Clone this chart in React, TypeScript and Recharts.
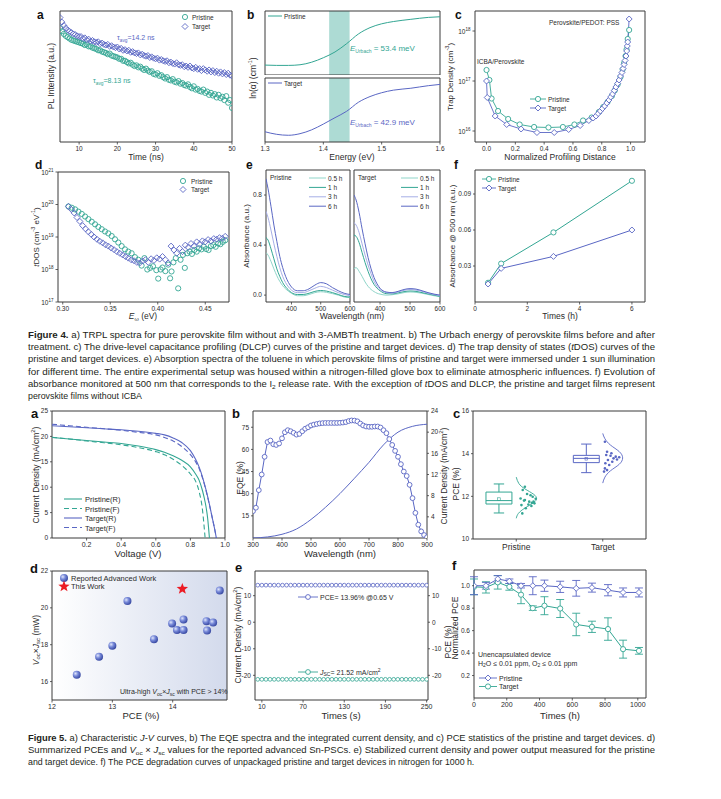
import React from "react";
import { ComposedChart, Line, Scatter, XAxis, YAxis, ReferenceArea, ErrorBar } from "recharts";

const FONT = "'Liberation Sans', Arial, Helvetica, sans-serif";
const TEAL = "#33a693";
const LTEAL = "#8fd5c9";
const PURP = "#5a67c4";
const LPURP = "#a6aee6";
const FRAME = "#3a3a3a";
const INK = "#2b2b2b";

// ---------------- Figure 4a : TRPL ----------------
const trplTime = [5,5.5,6,6.5,7,7.5,8,8.5,9,9.5,10,10.5,11,11.5,12,12.5,13,13.5,14,14.5,15,15.5,16,16.5,17,17.5,18,18.5,19,19.5,20,20.5,21,21.5,22,22.5,23,23.5,24,24.5,25,25.5,26,26.5,27,27.5,28,28.5,29,29.5,30,30.5,31,31.5,32,32.5,33,33.5,34,34.5,35,35.5,36,36.5,37,37.5,38,38.5,39,39.5,40,40.5,41,41.5,42,42.5,43,43.5,44,44.5,45,45.5,46,46.5,47,47.5,48,48.5,49,49.5,50];
const trplTarget = [95,91.5,89,87,85.5,84.5,83.5,82.5,82,81,80.5,80.5,79,79.5,78,78.5,77,77.5,76.5,76,76.5,75,75.5,74.5,74,74.5,73,73.5,72.5,72,72.5,71,71.5,70,70.5,69.5,70,68.5,69,68,67.5,68,66.5,67,66,65.5,66,64.5,65,64,63.5,64,62.5,63,62,61.5,62,60.5,61,60,59.5,60.5,59,58.5,59,57.5,58,57,58,56.5,56,57,55.5,56,54.5,56,55,54,55,53.5,54.5,53,54,52.5,53.5,52,53,51.5,52.5,51,50.5];
const trplPristine = [87,84.5,82.5,81,80,79,78,77.5,77,76.5,76,75.5,75,74,74.5,73,73,72,71.5,71,70,70,69,68.5,68,67,67.5,66,65.5,65,64.5,63.5,63.5,62,62,61,60,60.5,59,58,58.5,57,57.5,56,55,56,54.5,53.5,54,52,51.5,52.5,50.5,51,49.5,48.5,49.5,47.5,47,48,46,45.5,46.5,44.5,45,43.5,43,44,42,41,42.5,40,40.5,39,38.5,40,37.5,38.5,36,37.5,35.5,36.5,34,36,33.5,34.5,32,35,30,32,26];

// ---------------- Figure 4b : Urbach ----------------
const urbachEnergy = [1.30,1.32,1.34,1.36,1.38,1.40,1.42,1.44,1.46,1.48,1.50,1.52,1.55,1.58,1.60];
const urbachPristine = [1.55,1.5,1.5,1.6,2.0,2.7,3.6,4.9,6.4,7.4,8.0,8.35,8.7,9.0,9.1];
const urbachTarget = [1.6,1.2,1.05,1.3,1.9,2.8,3.8,4.8,6.2,7.1,7.7,8.1,8.4,8.8,9.0];
const urbachBand = [1.41, 1.445];

// ---------------- Figure 4c : DLCP (log10 of trap density) ----------------
const dlcpPristineX = [0,0.02,0.035,0.08,0.15,0.23,0.33,0.43,0.53,0.61,0.67,0.73,0.78,0.81,0.84,0.87,0.89,0.91,0.93,0.945,0.955,0.965,0.972,0.98,0.99];
const dlcpPristineLog = [17.22,17.02,16.65,16.40,16.24,16.13,16.08,16.07,16.08,16.13,16.21,16.27,16.38,16.48,16.58,16.70,16.81,16.93,17.08,17.23,17.36,17.5,17.63,17.84,18.02];
const dlcpTargetX = [0,0.005,0.06,0.14,0.24,0.35,0.47,0.57,0.65,0.71,0.74,0.76,0.775,0.79,0.805,0.82,0.835,0.85,0.862,0.875,0.887,0.898,0.91,0.92,0.93,0.94,0.948,0.955,0.962,0.968,0.973,0.977,0.98,0.99];
const dlcpTargetLog = [17.0,16.67,16.30,16.13,16.04,15.97,15.97,16.03,16.11,16.21,16.26,16.30,16.35,16.40,16.45,16.50,16.56,16.62,16.68,16.74,16.81,16.88,16.95,17.02,17.1,17.17,17.25,17.33,17.41,17.5,17.6,17.7,17.78,18.24];

// ---------------- Figure 4d : tDOS (log10) ----------------
const tdosPristineE = [0.306,0.3095,0.313,0.3165,0.32,0.3235,0.327,0.3305,0.334,0.3375,0.341,0.3445,0.348,0.3515,0.355,0.3585,0.362,0.3655,0.369,0.3725,0.376,0.3795,0.383,0.386,0.389,0.392,0.395,0.3985,0.4005,0.403,0.405,0.408,0.411,0.413,0.4145,0.4165,0.419,0.4215,0.424,0.4265,0.4285,0.431,0.4335,0.436,0.4385,0.441,0.4435,0.446,0.4485,0.451,0.4535,0.456,0.4585,0.461,0.4635,0.466,0.4685,0.471];
const tdosPristineLog = [19.94,19.9,19.85,19.78,19.71,19.63,19.55,19.47,19.39,19.31,19.24,19.17,19.11,19.03,18.93,18.83,18.72,18.62,18.55,18.5,18.38,18.3,18.12,18.35,18.0,18.05,18.1,17.98,17.72,18.0,18.06,17.95,18.15,17.73,17.94,18.22,18.35,17.42,18.3,18.45,18.05,18.5,18.55,18.48,18.6,18.55,18.65,18.62,18.7,18.63,18.6,18.72,18.75,18.7,18.8,18.78,18.85,18.9];
const tdosTargetE = [0.306,0.309,0.312,0.315,0.318,0.321,0.324,0.327,0.330,0.333,0.336,0.339,0.342,0.345,0.348,0.351,0.354,0.357,0.360,0.363,0.366,0.369,0.372,0.375,0.378,0.381,0.384,0.387,0.390,0.393,0.396,0.399,0.402,0.405,0.408,0.411,0.414,0.417,0.420,0.423,0.426,0.429,0.432,0.435,0.438,0.441,0.444,0.447,0.450,0.453,0.456,0.459,0.462,0.465,0.468,0.471];
const tdosTargetLog = [19.94,19.85,19.74,19.6,19.48,19.35,19.25,19.16,19.08,19.0,18.93,18.87,18.82,18.76,18.72,18.66,18.61,18.55,18.5,18.45,18.4,18.35,18.3,18.27,18.22,18.2,18.26,18.3,18.22,18.33,18.28,18.36,18.32,18.4,18.3,18.2,18.72,18.6,18.5,18.65,18.55,18.75,18.68,18.8,18.72,18.85,18.78,18.88,18.85,18.92,18.88,18.95,18.93,18.98,18.96,19.02];

// ---------------- Figure 4e : absorbance spectra ----------------
const absWavelength = [313,320,330,340,350,360,370,380,390,400,420,440,460,480,500,520,540,560,580,600];
const absPristine05 = [0.34,0.32,0.27,0.21,0.155,0.11,0.075,0.05,0.03,0.015,-0.005,-0.005,0.005,0.02,0.027,0.022,0.012,0.0,-0.015,-0.02];
const absPristine1 = [0.46,0.44,0.37,0.29,0.21,0.15,0.10,0.065,0.04,0.02,0.005,0.005,0.015,0.03,0.037,0.032,0.02,0.005,-0.01,-0.015];
const absPristine3 = [0.67,0.62,0.52,0.41,0.31,0.22,0.15,0.10,0.065,0.04,0.02,0.02,0.035,0.055,0.07,0.06,0.04,0.02,0.005,-0.005];
const absPristine6 = [0.93,0.85,0.71,0.56,0.43,0.31,0.22,0.15,0.10,0.065,0.035,0.035,0.05,0.08,0.10,0.09,0.06,0.035,0.015,0.005];
const absTarget05 = [0.21,0.22,0.19,0.15,0.105,0.07,0.045,0.028,0.015,0.008,0.0,0.003,0.01,0.02,0.025,0.022,0.015,0.005,-0.005,-0.012];
const absTarget1 = [0.48,0.47,0.42,0.34,0.26,0.19,0.13,0.085,0.055,0.035,0.012,0.01,0.018,0.028,0.033,0.03,0.02,0.01,0.0,-0.01];
const absTarget3 = [0.58,0.56,0.50,0.41,0.32,0.24,0.17,0.11,0.07,0.045,0.02,0.015,0.025,0.038,0.045,0.04,0.03,0.015,0.005,-0.005];
const absTarget6 = [0.80,0.76,0.66,0.53,0.41,0.30,0.21,0.14,0.09,0.055,0.025,0.02,0.03,0.045,0.052,0.048,0.035,0.02,0.008,0.0];
const absLabels = ["0.5 h", "1 h", "3 h", "6 h"];

// ---------------- Figure 4f : I2 release ----------------
const releaseTime = [0.5, 1, 3, 6];
const releasePristine = [0.016, 0.032, 0.058, 0.101];
const releaseTarget = [0.015, 0.028, 0.038, 0.060];

// ---------------- Figure 5a : J-V ----------------
const jvPristineRV = [0,0.1,0.2,0.3,0.4,0.5,0.6,0.65,0.7,0.75,0.8,0.83,0.85,0.87,0.88,0.89,0.90,0.905,0.91];
const jvPristineRJ = [19.8,19.5,19.2,18.9,18.6,18.1,17.4,16.9,16.2,15.3,14.0,12.6,11.4,9.3,7.9,6.2,3.8,2.0,0];
const jvPristineFV = [0,0.1,0.2,0.3,0.4,0.5,0.6,0.65,0.7,0.75,0.8,0.83,0.85,0.87,0.88,0.885];
const jvPristineFJ = [19.8,19.5,19.1,18.75,18.35,17.8,17.0,16.4,15.5,14.3,12.6,11.2,9.2,5.5,2.0,0];
const jvTargetRV = [0,0.1,0.2,0.3,0.4,0.5,0.6,0.65,0.7,0.75,0.8,0.83,0.85,0.87,0.89,0.91,0.93,0.94,0.95];
const jvTargetRJ = [22.1,21.9,21.7,21.5,21.3,21.0,20.6,20.3,19.7,18.8,17.2,15.5,14.0,12.0,9.5,6.6,3.4,1.8,0];
const jvTargetFV = [0,0.1,0.2,0.3,0.4,0.5,0.6,0.65,0.7,0.75,0.8,0.83,0.85,0.87,0.89,0.91,0.93,0.94,0.95];
const jvTargetFJ = [22.4,22.1,21.8,21.5,21.2,20.8,20.3,19.8,19.1,18.0,16.4,15.0,13.7,11.8,9.4,6.5,3.4,1.8,0];
const jvLabels = ["Pristine(R)", "Pristine(F)", "Target(R)", "Target(F)"];

// ---------------- Figure 5b : EQE ----------------
const eqeWavelength = [300,310,320,330,340,350,360,370,380,390,400,410,420,430,440,450,460,470,480,490,500,510,520,530,540,550,560,570,580,590,600,610,620,630,640,650,660,670,680,690,700,710,720,730,740,750,760,770,780,790,800,810,820,830,840,850,860,870,880,890,900];
const eqeValues = [18.2,20.5,32.4,43,55,65,66,63.5,63,64,67.5,71.6,73,72.3,71.2,70,70.5,72.3,74,75,76.2,76.8,77.2,77.6,77.8,77.9,77.9,77.9,77.9,77.9,78,78.2,78.5,79.2,79.6,79.5,79,77.5,76.2,75.5,75.3,75.3,75.5,75.5,74.8,73,71,67,63,59,55,50,45,42,36,27,17,9,4.5,2,0.5];
const jscWavelength = [300,350,400,450,500,550,600,650,700,750,800,850,900];
const jscValues = [0,0.2,0.7,1.7,3.5,5.8,8.4,11.3,14.3,17.6,20.0,21.1,21.5];

// ---------------- Figure 5c : PCE statistics ----------------
const pceGroups = ["Pristine", "Target"];
const pceMin = [11.22, 13.11];
const pceQ1 = [11.64, 13.58];
const pceMedian = [11.8, 13.78];
const pceQ3 = [12.2, 13.92];
const pceMax = [12.58, 14.45];
const pceMean = [11.87, 13.76];
const pristineDotPce = [12.3,12.11,11.98,11.89,11.83,11.75,11.67,11.59,11.55,11.44,11.2,12.05,11.9,11.75,11.62,11.8,12.45,11.7];
const pristineDotJitter = [0.15,0.25,0.38,0.45,0.2,0.3,0.42,0.12,0.35,0.22,0.14,0.33,0.1,0.4,0.28,0.18,0.2,0.36];
const targetDotPce = [14.56,14.09,14.02,13.94,13.86,13.83,13.78,13.7,13.73,13.55,13.47,13.31,13.23,13.16,13.9,13.62];
const targetDotJitter = [0.05,0.1,0.2,0.08,0.3,0.38,0.25,0.12,0.33,0.06,0.15,0.05,0.1,0.03,0.18,0.22];
const pristineCurvePce = [10.97,11.2,11.45,11.7,11.9,12.1,12.35,12.6,12.9];
const pristineCurveDensity = [0,0.05,0.2,0.4,0.47,0.4,0.2,0.06,0];
const targetCurvePce = [12.62,12.9,13.2,13.5,13.8,14.1,14.4,14.7,14.95];
const targetCurveDensity = [0,0.05,0.18,0.38,0.46,0.38,0.18,0.05,0];

// ---------------- Figure 5d : literature ----------------
const reportedPce = [12.41,12.78,13.0,13.25,13.69,13.99,14.07,14.18,14.18,14.56,14.57,14.67,14.78];
const reportedVj = [16.37,17.35,17.95,20.37,18.3,19.15,18.8,19.37,18.8,19.28,18.77,19.2,20.94];
const thisWorkPce = [14.16];
const thisWorkVj = [21.03];

// ---------------- Figure 5e : stabilized output ----------------
const stabTime = [4,10,16,22,28,34,40,46,52,58,64,70,76,82,88,94,100,106,112,118,124,130,136,142,148,154,160,166,172,178,184,190,196,202,208,214,220,226,232,238,244,250];
const stabPce = [13.96,13.96,13.96,13.96,13.96,13.96,13.96,13.96,13.96,13.96,13.96,13.96,13.96,13.96,13.96,13.96,13.96,13.96,13.96,13.96,13.96,13.96,13.96,13.96,13.96,13.96,13.96,13.96,13.96,13.96,13.96,13.96,13.96,13.96,13.96,13.96,13.96,13.96,13.96,13.96,13.96,13.96];
const stabJ = [-21.52,-21.52,-21.52,-21.52,-21.52,-21.52,-21.52,-21.52,-21.52,-21.52,-21.52,-21.52,-21.52,-21.52,-21.52,-21.52,-21.52,-21.52,-21.52,-21.52,-21.52,-21.52,-21.52,-21.52,-21.52,-21.52,-21.52,-21.52,-21.52,-21.52,-21.52,-21.52,-21.52,-21.52,-21.52,-21.52,-21.52,-21.52,-21.52,-21.52,-21.52,-21.52];

// ---------------- Figure 5f : aging ----------------
const agingTime = [0,73,145,216,287,359,430,526,624,720,818,910,1007];
const agingPristine = [1.0,1.0,1.06,1.04,1.0,1.0,1.0,0.99,0.977,0.983,0.96,0.94,0.94];
const agingPristineErr = [0.08,0.03,0.03,0.02,0.02,0.08,0.05,0.05,0.07,0.04,0.05,0.04,0.04];
const agingTarget = [0.99,0.985,1.03,0.99,0.92,0.80,0.822,0.797,0.655,0.634,0.614,0.435,0.42];
const agingTargetErr = [0.07,0.05,0.06,0.03,0.08,0.02,0.08,0.08,0.1,0.05,0.1,0.08,0.03];

// layout constants for the box plot (positions on the numeric category axis)
const CAT_POS = [1, 3];
const BOX_CENTER = [0.6, 2.62];
const BOX_HALF = 0.3;
const CAP_HALF = 0.12;

// ---------------- helpers ----------------
const tbl = (xs: number[], ys: number[]) => xs.map((x, i) => ({ x, y: ys[i] }));
const tblErr = (xs: number[], ys: number[], es: number[]) => xs.map((x, i) => ({ x, y: ys[i], e: es[i] }));

const dPath = (cx: number, cy: number, r: number) => `M${cx},${cy - r}L${cx + r},${cy}L${cx},${cy + r}L${cx - r},${cy}Z`;
const starPath = (cx: number, cy: number, R: number, r: number) => {
  let d = "";
  for (let i = 0; i < 10; i++) {
    const a = -Math.PI / 2 + (i * Math.PI) / 5;
    const rr = i % 2 === 0 ? R : r;
    d += (i === 0 ? "M" : "L") + (cx + rr * Math.cos(a)).toFixed(2) + "," + (cy + rr * Math.sin(a)).toFixed(2);
  }
  return d + "Z";
};

const circShape = (color: string, r: number, fill = "none", sw = 0.9) => (p: any) =>
  p.cx == null || p.cy == null ? <g key={p.index} /> : <circle key={p.index} cx={p.cx} cy={p.cy} r={r} fill={fill} stroke={color} strokeWidth={sw} />;
const diaShape = (color: string, r: number, fill = "none", sw = 0.9) => (p: any) =>
  p.cx == null || p.cy == null ? <g key={p.index} /> : <path key={p.index} d={dPath(p.cx, p.cy, r)} fill={fill} stroke={color} strokeWidth={sw} />;
const dotShape = (color: string, r: number) => (p: any) => <circle cx={p.cx} cy={p.cy} r={r} fill={color} />;
const sqShape = (color: string, s: number) => (p: any) => <rect x={p.cx - s} y={p.cy - s} width={2 * s} height={2 * s} fill="none" stroke={color} strokeWidth={0.6} />;
const sphereShape = (p: any) => <circle cx={p.cx} cy={p.cy} r={4} fill="url(#sphereGrad)" />;
const starShape = (p: any) => <path d={starPath(p.cx, p.cy, 6, 2.5)} fill="#ec1c24" />;

function place(box: number[], L: number, R: number, T: number, B: number, right: boolean) {
  const [x0, y0, x1, y1] = box;
  return {
    style: { position: "absolute" as const, left: x0 - L, top: y0 - T },
    width: x1 - x0 + L + R,
    height: y1 - y0 + T + B,
    margin: { top: T, right: right ? 0 : R, bottom: 0, left: 0 },
  };
}

const Chart = ({ box, L = 24, R = 4, T = 4, B = 14, right = false, children }: any) => {
  const p = place(box, L, R, T, B, right);
  return (
    <div style={p.style}>
      <ComposedChart width={p.width} height={p.height} margin={p.margin}>
        {children}
      </ComposedChart>
    </div>
  );
};

const tickStyle = (fs: number) => ({ fontSize: fs, fill: INK, fontFamily: FONT });
const tickLineStyle = { stroke: FRAME, strokeWidth: 0.8 };

const xAx = (domain: number[], ticks: number[], o: any = {}) => (
  <XAxis
    type="number"
    dataKey="x"
    domain={domain}
    ticks={ticks}
    allowDataOverflow
    interval={0}
    height={o.h ?? 14}
    hide={o.hide}
    tick={ticks.length ? tickStyle(o.fs ?? 6.5) : false}
    tickFormatter={o.fmt}
    axisLine={false}
    tickLine={ticks.length ? tickLineStyle : false}
    tickSize={o.ts ?? 2.5}
  />
);

const yAx = (domain: number[], ticks: number[], o: any = {}) => (
  <YAxis
    type="number"
    dataKey="y"
    yAxisId={o.id ?? 0}
    orientation={o.right ? "right" : "left"}
    domain={domain}
    ticks={ticks}
    allowDataOverflow
    interval={0}
    width={o.w ?? 24}
    tick={o.tick ?? (ticks.length ? tickStyle(o.fs ?? 6.5) : false)}
    tickFormatter={o.fmt}
    axisLine={false}
    tickLine={ticks.length ? tickLineStyle : false}
    tickSize={o.ts ?? 2.5}
  />
);

const frame = (xd: number[], yd: number[], id: any = 0) => (
  <ReferenceArea x1={xd[0]} x2={xd[1]} y1={yd[0]} y2={yd[1]} yAxisId={id} fill="none" stroke={FRAME} strokeWidth={1} ifOverflow="visible" />
);

const ExpTick = (props: any) => {
  const { x, y, payload } = props;
  return (
    <text x={x} y={y} dy={2.5} textAnchor="end" fontSize={6.5} fill={INK} fontFamily={FONT}>
      10<tspan dy={-3} fontSize={4.5}>{payload.value}</tspan>
    </text>
  );
};

const f1 = (v: number) => v.toFixed(1);
const f2 = (v: number) => v.toFixed(2);

// ---------------- box-plot line builder ----------------
const boxLine = (i: number) => {
  const c = BOX_CENTER[i];
  const gap = { x: c, y: null as any };
  return [
    { x: c - BOX_HALF, y: pceQ1[i] }, { x: c + BOX_HALF, y: pceQ1[i] }, { x: c + BOX_HALF, y: pceQ3[i] }, { x: c - BOX_HALF, y: pceQ3[i] }, { x: c - BOX_HALF, y: pceQ1[i] }, gap,
    { x: c - BOX_HALF, y: pceMedian[i] }, { x: c + BOX_HALF, y: pceMedian[i] }, gap,
    { x: c, y: pceQ3[i] }, { x: c, y: pceMax[i] }, gap,
    { x: c - CAP_HALF, y: pceMax[i] }, { x: c + CAP_HALF, y: pceMax[i] }, gap,
    { x: c, y: pceQ1[i] }, { x: c, y: pceMin[i] }, gap,
    { x: c - CAP_HALF, y: pceMin[i] }, { x: c + CAP_HALF, y: pceMin[i] },
  ];
};

// ---------------- overlay text helpers ----------------
const Tx = ({ x, y, s = 7, a = "start", c = INK, w = 400, children }: any) => (
  <text x={x} y={y} fontSize={s} fill={c} fontFamily={FONT} textAnchor={a} fontWeight={w}>{children}</text>
);
const Rot = ({ cx, cy, s = 8.5, children }: any) => (
  <text x={cx} y={cy} fontSize={s} fill={INK} fontFamily={FONT} textAnchor="middle" dominantBaseline="central" transform={`rotate(-90 ${cx} ${cy})`}>{children}</text>
);
const Letter = ({ x, y, s = 12, t }: any) => (
  <text x={x} y={y} fontSize={s} fontWeight={700} fill="#111" fontFamily={FONT}>{t}</text>
);

const CAP_X = 28;
const CAP_W = 627;
const CAP_FS = 8.8;
const CapLine = ({ y, fit = true, children }: any) => (
  <text x={CAP_X} y={y} fontSize={CAP_FS} fill="#231f20" fontFamily={FONT} textLength={fit ? CAP_W : undefined} lengthAdjust={fit ? "spacingAndGlyphs" : undefined}>
    {children}
  </text>
);

const Y5 = { w: 18, fs: 6.5, ts: 2 };

export default function App() {
  const absColors = [LTEAL, TEAL, LPURP, PURP];
  const absP = [absPristine05, absPristine1, absPristine3, absPristine6];
  const absT = [absTarget05, absTarget1, absTarget3, absTarget6];
  const jvColors = [TEAL, TEAL, PURP, PURP];
  const jvDash = [undefined, "5 3", undefined, "5 3"];

  return (
    <div style={{ position: "absolute", left: 0, top: 0, width: 721, height: 799, background: "#fff", overflow: "hidden", fontFamily: FONT }}>
      <svg width={0} height={0} style={{ position: "absolute" }}>
        <defs>
          <linearGradient id="bgGrad" x1="0" y1="0" x2="1" y2="0">
            <stop offset="0" stopColor="#ffffff" />
            <stop offset="1" stopColor="#d3daec" />
          </linearGradient>
          <radialGradient id="sphereGrad" cx="0.35" cy="0.35" r="0.7">
            <stop offset="0" stopColor="#dfe5fb" />
            <stop offset="0.45" stopColor="#7688d8" />
            <stop offset="1" stopColor="#34459f" />
          </radialGradient>
        </defs>
      </svg>

      {/* ===== Figure 4a ===== */}
      <Chart box={[60, 11, 232, 142]} L={6} R={8}>
        {xAx([5, 50], [10, 20, 30, 40, 50])}
        {yAx([0, 100], [], { w: 6 })}
        {frame([5, 50], [0, 100])}
        <Scatter data={tbl(trplTime, trplPristine)} shape={circShape(TEAL, 2.6)} isAnimationActive={false} />
        <Scatter data={tbl(trplTime, trplTarget)} shape={diaShape(PURP, 3)} isAnimationActive={false} />
      </Chart>

      {/* ===== Figure 4b ===== */}
      <Chart box={[265, 11, 440, 75]} L={6} B={0}>
        {xAx([1.3, 1.6], [], { hide: true })}
        {yAx([0, 10], [], { w: 6 })}
        <ReferenceArea x1={urbachBand[0]} x2={urbachBand[1]} y1={0} y2={10} fill={TEAL} fillOpacity={0.4} stroke="none" ifOverflow="visible" />
        {frame([1.3, 1.6], [0, 10])}
        <Line data={tbl(urbachEnergy, urbachPristine)} dataKey="y" type="monotone" stroke={TEAL} strokeWidth={1} dot={false} activeDot={false} isAnimationActive={false} />
      </Chart>
      <Chart box={[265, 78, 440, 142]} L={6} T={2} R={8}>
        {xAx([1.3, 1.6], [1.3, 1.4, 1.5, 1.6], { fmt: f1 })}
        {yAx([0, 10], [], { w: 6 })}
        <ReferenceArea x1={urbachBand[0]} x2={urbachBand[1]} y1={0} y2={10} fill={TEAL} fillOpacity={0.4} stroke="none" ifOverflow="visible" />
        {frame([1.3, 1.6], [0, 10])}
        <Line data={tbl(urbachEnergy, urbachTarget)} dataKey="y" type="monotone" stroke={PURP} strokeWidth={1} dot={false} activeDot={false} isAnimationActive={false} />
      </Chart>

      {/* ===== Figure 4c ===== */}
      <Chart box={[475, 11, 645, 142]} L={24}>
        {xAx([-0.08, 1.1], [0, 0.2, 0.4, 0.6, 0.8, 1.0], { fmt: f1 })}
        {yAx([15.78, 18.4], [16, 17, 18], { tick: ExpTick })}
        {frame([-0.08, 1.1], [15.78, 18.4])}
        <Line data={tbl(dlcpPristineX, dlcpPristineLog)} dataKey="y" stroke={TEAL} strokeWidth={0.9} dot={circShape(TEAL, 2.6, "#fff")} activeDot={false} isAnimationActive={false} />
        <Line data={tbl(dlcpTargetX, dlcpTargetLog)} dataKey="y" stroke={PURP} strokeWidth={0.9} dot={diaShape(PURP, 3, "#fff")} activeDot={false} isAnimationActive={false} />
      </Chart>

      {/* ===== Figure 4d ===== */}
      <Chart box={[58, 172, 229, 302]} L={24}>
        {xAx([0.295, 0.475], [0.3, 0.35, 0.4, 0.45], { fmt: f2 })}
        {yAx([17, 21], [17, 18, 19, 20, 21], { tick: ExpTick })}
        {frame([0.295, 0.475], [17, 21])}
        <Scatter data={tbl(tdosPristineE, tdosPristineLog)} shape={circShape(TEAL, 2.6)} isAnimationActive={false} />
        <Scatter data={tbl(tdosTargetE, tdosTargetLog)} shape={diaShape(PURP, 3)} isAnimationActive={false} />
      </Chart>

      {/* ===== Figure 4e ===== */}
      <Chart box={[266, 170, 350, 302]} L={20} R={8}>
        {xAx([313, 600], [400, 500, 600])}
        {yAx([-0.055, 1.0], [0, 0.4, 0.8], { fmt: f1, w: 20, ts: 2 })}
        {frame([313, 600], [-0.055, 1.0])}
        {absP.map((arr, i) => (
          <Line key={"p" + i} data={tbl(absWavelength, arr)} dataKey="y" type="monotone" stroke={absColors[i]} strokeWidth={1} dot={false} activeDot={false} isAnimationActive={false} />
        ))}
      </Chart>
      <Chart box={[354, 170, 440, 302]} L={2} R={8}>
        {xAx([313, 600], [400, 500, 600])}
        {yAx([-0.055, 1.0], [], { w: 2 })}
        {frame([313, 600], [-0.055, 1.0])}
        {absT.map((arr, i) => (
          <Line key={"t" + i} data={tbl(absWavelength, arr)} dataKey="y" type="monotone" stroke={absColors[i]} strokeWidth={1} dot={false} activeDot={false} isAnimationActive={false} />
        ))}
      </Chart>

      {/* ===== Figure 4f ===== */}
      <Chart box={[475, 170, 645, 302]} L={24}>
        {xAx([0, 6.5], [0, 2, 4, 6])}
        {yAx([0, 0.11], [0.03, 0.06, 0.09], { fmt: f2, ts: 2 })}
        {frame([0, 6.5], [0, 0.11])}
        <Line data={tbl(releaseTime, releasePristine)} dataKey="y" stroke={TEAL} strokeWidth={1} dot={circShape(TEAL, 2.6, "#fff")} activeDot={false} isAnimationActive={false} />
        <Line data={tbl(releaseTime, releaseTarget)} dataKey="y" stroke={PURP} strokeWidth={1} dot={diaShape(PURP, 3, "#fff")} activeDot={false} isAnimationActive={false} />
      </Chart>

      {/* ===== Figure 5a ===== */}
      <Chart box={[52, 411, 225, 538]} L={18} R={8}>
        {xAx([0, 1.0], [0.2, 0.4, 0.6, 0.8, 1.0], { fmt: f1, fs: 7 })}
        {yAx([0, 25], [0, 5, 10, 15, 20, 25], Y5)}
        {frame([0, 1.0], [0, 25])}
        <Line data={tbl(jvPristineRV, jvPristineRJ)} dataKey="y" type="monotone" stroke={TEAL} strokeWidth={1.1} dot={false} activeDot={false} isAnimationActive={false} />
        <Line data={tbl(jvPristineFV, jvPristineFJ)} dataKey="y" type="monotone" stroke={TEAL} strokeWidth={1.1} strokeDasharray="5 3" dot={false} activeDot={false} isAnimationActive={false} />
        <Line data={tbl(jvTargetRV, jvTargetRJ)} dataKey="y" type="monotone" stroke={PURP} strokeWidth={1.1} dot={false} activeDot={false} isAnimationActive={false} />
        <Line data={tbl(jvTargetFV, jvTargetFJ)} dataKey="y" type="monotone" stroke={PURP} strokeWidth={1.1} strokeDasharray="5 3" dot={false} activeDot={false} isAnimationActive={false} />
      </Chart>

      {/* ===== Figure 5b ===== */}
      <Chart box={[253, 411, 427, 538]} L={18} R={16} right>
        {xAx([300, 900], [300, 400, 500, 600, 700, 800, 900], { fs: 7 })}
        {yAx([0, 86], [15, 30, 45, 60, 75], { ...Y5, id: "l" })}
        {yAx([0, 24], [4, 8, 12, 16, 20, 24], { ...Y5, id: "r", right: true, w: 16 })}
        {frame([300, 900], [0, 86], "l")}
        <Line yAxisId="r" data={tbl(jscWavelength, jscValues)} dataKey="y" type="monotone" stroke={PURP} strokeWidth={1} dot={false} activeDot={false} isAnimationActive={false} />
        <Line yAxisId="l" data={tbl(eqeWavelength, eqeValues)} dataKey="y" stroke={PURP} strokeWidth={1} dot={circShape(PURP, 2.4, "#fff")} activeDot={false} isAnimationActive={false} />
      </Chart>

      {/* ===== Figure 5c ===== */}
      <Chart box={[473, 411, 646, 539]} L={18} B={16}>
        {xAx([0, 4], CAT_POS, { fs: 8.5, h: 16, fmt: (v: number) => pceGroups[CAT_POS.indexOf(v)] })}
        {yAx([10, 16], [10, 12, 14, 16], Y5)}
        {frame([0, 4], [10, 16])}
        <Line data={boxLine(0)} dataKey="y" stroke={TEAL} strokeWidth={1} dot={false} activeDot={false} connectNulls={false} isAnimationActive={false} />
        <Line data={boxLine(1)} dataKey="y" stroke={PURP} strokeWidth={1} dot={false} activeDot={false} connectNulls={false} isAnimationActive={false} />
        <Scatter data={[{ x: BOX_CENTER[0], y: pceMean[0] }]} shape={sqShape(TEAL, 1.3)} isAnimationActive={false} />
        <Scatter data={[{ x: BOX_CENTER[1], y: pceMean[1] }]} shape={sqShape(PURP, 1.3)} isAnimationActive={false} />
        <Scatter data={pristineDotPce.map((v, i) => ({ x: CAT_POS[0] + pristineDotJitter[i], y: v }))} shape={dotShape(TEAL, 1.3)} isAnimationActive={false} />
        <Scatter data={targetDotPce.map((v, i) => ({ x: CAT_POS[1] + targetDotJitter[i], y: v }))} shape={dotShape(PURP, 1.3)} isAnimationActive={false} />
        <Line data={pristineCurvePce.map((v, i) => ({ x: CAT_POS[0] + pristineCurveDensity[i], y: v }))} dataKey="y" type="natural" stroke={TEAL} strokeWidth={0.9} dot={false} activeDot={false} isAnimationActive={false} />
        <Line data={targetCurvePce.map((v, i) => ({ x: CAT_POS[1] + targetCurveDensity[i], y: v }))} dataKey="y" type="natural" stroke={PURP} strokeWidth={0.9} dot={false} activeDot={false} isAnimationActive={false} />
      </Chart>

      {/* ===== Figure 5d ===== */}
      <Chart box={[52, 571, 227, 700]} L={18}>
        {xAx([12, 14.9], [12, 13, 14], { fs: 7 })}
        {yAx([15, 22], [16, 18, 20, 22], Y5)}
        <ReferenceArea x1={12} x2={14.9} y1={15} y2={22} fill="url(#bgGrad)" fillOpacity={1} stroke="none" ifOverflow="visible" />
        {frame([12, 14.9], [15, 22])}
        <Scatter data={tbl(reportedPce, reportedVj)} shape={sphereShape} isAnimationActive={false} />
        <Scatter data={tbl(thisWorkPce, thisWorkVj)} shape={starShape} isAnimationActive={false} />
      </Chart>

      {/* ===== Figure 5e ===== */}
      <Chart box={[255, 571, 428, 700]} L={20} R={18} right>
        {xAx([0, 252], [10, 70, 130, 190, 250], { fs: 7 })}
        {yAx([-29.3, 19.3], [-20, -10, 0, 10], { ...Y5, id: "l", w: 20 })}
        {yAx([-29.3, 19.3], [-20, -10, 0, 10], { ...Y5, id: "r", right: true })}
        {frame([0, 252], [-29.3, 19.3], "l")}
        <Line yAxisId="r" data={tbl(stabTime, stabPce)} dataKey="y" stroke={PURP} strokeWidth={0.8} dot={circShape(PURP, 1.9, "#fff", 0.8)} activeDot={false} isAnimationActive={false} />
        <Line yAxisId="l" data={tbl(stabTime, stabJ)} dataKey="y" stroke={TEAL} strokeWidth={0.8} dot={circShape(TEAL, 1.9, "#fff", 0.8)} activeDot={false} isAnimationActive={false} />
      </Chart>

      {/* ===== Figure 5f ===== */}
      <Chart box={[474, 570, 646, 698]} L={20} R={8}>
        {xAx([0, 1050], [0, 200, 400, 600, 800, 1000], { fs: 7 })}
        {yAx([0, 1.14], [0.2, 0.4, 0.6, 0.8, 1.0], { ...Y5, fmt: f1, w: 20 })}
        {frame([0, 1050], [0, 1.14])}
        <Line data={tblErr(agingTime, agingTarget, agingTargetErr)} dataKey="y" stroke={TEAL} strokeWidth={1} dot={circShape(TEAL, 2.6, "#fff")} activeDot={false} isAnimationActive={false}>
          <ErrorBar dataKey="e" width={4} stroke={TEAL} strokeWidth={0.9} direction="y" />
        </Line>
        <Line data={tblErr(agingTime, agingPristine, agingPristineErr)} dataKey="y" stroke={PURP} strokeWidth={1} dot={diaShape(PURP, 3, "#fff")} activeDot={false} isAnimationActive={false}>
          <ErrorBar dataKey="e" width={4} stroke={PURP} strokeWidth={0.9} direction="y" />
        </Line>
      </Chart>

      {/* ===== overlay: titles, legends, annotations, captions ===== */}
      <svg width={721} height={799} style={{ position: "absolute", left: 0, top: 0, pointerEvents: "none" }}>
        {/* Figure 4 letters */}
        <Letter x={37} y={19} t="a" />
        <Letter x={247} y={19} t="b" />
        <Letter x={455} y={19} t="c" />
        <Letter x={35} y={169} t="d" />
        <Letter x={246} y={169} t="e" />
        <Letter x={454} y={169} t="f" />

        {/* 4a */}
        <Rot cx={51} cy={76}>PL Intensity (a.u.)</Rot>
        <Tx x={146} y={159.5} s={8.5} a="middle">Time (ns)</Tx>
        <circle cx={185} cy={17} r={2.6} fill="none" stroke={TEAL} strokeWidth={0.9} />
        <Tx x={192} y={19.5} s={6.5}>Pristine</Tx>
        <path d={dPath(185, 26.5, 3)} fill="none" stroke={PURP} strokeWidth={0.9} />
        <Tx x={192} y={29} s={6.5}>Target</Tx>
        <Tx x={117} y={40} s={7} c={PURP}>τ<tspan fontSize={4.8} dy={1.5}>avg</tspan><tspan dy={-1.5}>=14.2 ns</tspan></Tx>
        <Tx x={93} y={83} s={7} c={TEAL}>τ<tspan fontSize={4.8} dy={1.5}>avg</tspan><tspan dy={-1.5}>=8.13 ns</tspan></Tx>

        {/* 4b */}
        <Rot cx={253} cy={78}>ln(α) (cm<tspan dy={-3} fontSize={5.5}>-1</tspan><tspan dy={3}>)</tspan></Rot>
        <Tx x={352} y={159.5} s={8.5} a="middle">Energy (eV)</Tx>
        <line x1={268} y1={16} x2={282} y2={16} stroke={TEAL} strokeWidth={1} />
        <Tx x={284} y={18.5} s={6.5}>Pristine</Tx>
        <line x1={268} y1={83} x2={282} y2={83} stroke={PURP} strokeWidth={1} />
        <Tx x={284} y={85.5} s={6.5}>Target</Tx>
        <Tx x={350} y={51} s={8} c={TEAL}><tspan fontStyle="italic">E</tspan><tspan fontSize={5} dy={2}>Urbach</tspan><tspan dy={-2}> = 53.4 meV</tspan></Tx>
        <Tx x={350} y={125} s={8} c={PURP}><tspan fontStyle="italic">E</tspan><tspan fontSize={5} dy={2}>Urbach</tspan><tspan dy={-2}> = 42.9 meV</tspan></Tx>

        {/* 4c */}
        <Rot cx={450} cy={77} s={8}>Trap Density (cm<tspan dy={-3} fontSize={5.5}>-3</tspan><tspan dy={3}>)</tspan></Rot>
        <Tx x={560} y={159.5} s={8.5} a="middle">Normalized Profiling Distance</Tx>
        <Tx x={477} y={63.5} s={6.5}>ICBA/Perovskite</Tx>
        <Tx x={549} y={25} s={6.5}>Perovskite/PEDOT: PSS</Tx>
        <line x1={530} y1={99} x2={546} y2={99} stroke={TEAL} strokeWidth={0.9} />
        <circle cx={538} cy={99} r={2.6} fill="#fff" stroke={TEAL} strokeWidth={0.9} />
        <Tx x={548} y={101.5} s={6.5}>Pristine</Tx>
        <line x1={530} y1={108} x2={546} y2={108} stroke={PURP} strokeWidth={0.9} />
        <path d={dPath(538, 108, 3)} fill="#fff" stroke={PURP} strokeWidth={0.9} />
        <Tx x={548} y={110.5} s={6.5}>Target</Tx>

        {/* 4d */}
        <Rot cx={36} cy={237} s={8}><tspan fontStyle="italic">t</tspan>DOS (cm<tspan dy={-3} fontSize={5.5}>-3</tspan><tspan dy={3}> eV</tspan><tspan dy={-3} fontSize={5.5}>-1</tspan><tspan dy={3}>)</tspan></Rot>
        <Tx x={143} y={319} s={8.5} a="middle"><tspan fontStyle="italic">E</tspan><tspan fontSize={5.5} dy={2}>ω</tspan><tspan dy={-2}> (eV)</tspan></Tx>
        <circle cx={183} cy={181} r={2.6} fill="none" stroke={TEAL} strokeWidth={0.9} />
        <Tx x={191} y={183.5} s={6.5}>Pristine</Tx>
        <path d={dPath(183, 189.5, 3)} fill="none" stroke={PURP} strokeWidth={0.9} />
        <Tx x={191} y={192} s={6.5}>Target</Tx>

        {/* 4e */}
        <Rot cx={246.5} cy={236} s={8}>Absorbance (a.u.)</Rot>
        <Tx x={352} y={319} s={8.5} a="middle">Wavelength (nm)</Tx>
        <Tx x={270} y={179.5} s={6.5}>Pristine</Tx>
        <Tx x={358} y={179.5} s={6.5}>Target</Tx>
        {absLabels.map((lab, i) => (
          <g key={"lg" + i}>
            <line x1={309} y1={178 + i * 9.4} x2={326} y2={178 + i * 9.4} stroke={absColors[i]} strokeWidth={1} />
            <Tx x={328} y={180.5 + i * 9.4} s={6.5}>{lab}</Tx>
            <line x1={401} y1={178 + i * 9.4} x2={418} y2={178 + i * 9.4} stroke={absColors[i]} strokeWidth={1} />
            <Tx x={420} y={180.5 + i * 9.4} s={6.5}>{lab}</Tx>
          </g>
        ))}

        {/* 4f */}
        <Rot cx={452} cy={236} s={8}>Absorbance @ 500 nm (a.u.)</Rot>
        <Tx x={560} y={319} s={8.5} a="middle">Times (h)</Tx>
        <line x1={482} y1={179} x2={496} y2={179} stroke={TEAL} strokeWidth={0.9} />
        <circle cx={489} cy={179} r={2.6} fill="#fff" stroke={TEAL} strokeWidth={0.9} />
        <Tx x={498} y={181.5} s={6.5}>Pristine</Tx>
        <line x1={482} y1={188} x2={496} y2={188} stroke={PURP} strokeWidth={0.9} />
        <path d={dPath(489, 188, 3)} fill="#fff" stroke={PURP} strokeWidth={0.9} />
        <Tx x={498} y={190.5} s={6.5}>Target</Tx>

        {/* Figure 4 caption */}
        <CapLine y={338}><tspan fontWeight={700}>Figure 4.</tspan> a) TRPL spectra for pure perovskite film without and with 3-AMBTh treatment. b) The Urbach energy of perovskite films before and after</CapLine>
        <CapLine y={350.2}>treatment. c) The drive-level capacitance profiling (DLCP) curves of the pristine and target devices. d) The trap density of states (<tspan fontStyle="italic">t</tspan>DOS) curves of the</CapLine>
        <CapLine y={362.4}>pristine and target devices. e) Absorption spectra of the toluene in which perovskite films of pristine and target were immersed under 1 sun illumination</CapLine>
        <CapLine y={374.6}>for different time. The entire experimental setup was housed within a nitrogen-filled glove box to eliminate atmospheric influences. f) Evolution of</CapLine>
        <CapLine y={386.8}>absorbance monitored at 500 nm that corresponds to the I<tspan fontSize={6} dy={2}>2</tspan><tspan dy={-2}> release rate. With the exception of </tspan><tspan fontStyle="italic">t</tspan>DOS and DLCP, the pristine and target films represent</CapLine>
        <CapLine y={399} fit={false}>perovskite films without ICBA</CapLine>

        {/* Figure 5 letters */}
        <Letter x={31} y={418} s={13} t="a" />
        <Letter x={232} y={418} s={13} t="b" />
        <Letter x={453} y={418} s={13} t="c" />
        <Letter x={30} y={573} s={13} t="d" />
        <Letter x={235} y={572} s={13} t="e" />
        <Letter x={452} y={570} s={13} t="f" />

        {/* 5a */}
        <Rot cx={36} cy={475} s={8.5}>Current Density (mA/cm<tspan dy={-3} fontSize={6}>2</tspan><tspan dy={3}>)</tspan></Rot>
        <Tx x={138} y={557} s={9.5} a="middle">Voltage (V)</Tx>
        {jvLabels.map((lab, i) => (
          <g key={"jv" + i}>
            <line x1={64} y1={499 + i * 9.5} x2={82} y2={499 + i * 9.5} stroke={jvColors[i]} strokeWidth={1.1} strokeDasharray={jvDash[i]} />
            <Tx x={85} y={502 + i * 9.5} s={7.5}>{lab}</Tx>
          </g>
        ))}

        {/* 5b */}
        <Rot cx={240} cy={478} s={8.5}>EQE (%)</Rot>
        <Rot cx={444} cy={476} s={8.5}>Current Density (mA/cm<tspan dy={-3} fontSize={6}>2</tspan><tspan dy={3}>)</tspan></Rot>
        <Tx x={340} y={557} s={9.5} a="middle">Wavelength (nm)</Tx>

        {/* 5c */}
        <Rot cx={455.5} cy={484} s={8.5}>PCE (%)</Rot>

        {/* 5d */}
        <Rot cx={36} cy={640} s={8.5}><tspan fontStyle="italic">V</tspan><tspan fontSize={6} dy={2}>oc</tspan><tspan dy={-2}>×</tspan><tspan fontStyle="italic">J</tspan><tspan fontSize={6} dy={2}>sc</tspan><tspan dy={-2}> (mW)</tspan></Rot>
        <Tx x={141} y={719} s={9.5} a="middle">PCE (%)</Tx>
        <circle cx={64} cy={578} r={4} fill="url(#sphereGrad)" />
        <Tx x={71} y={580.5} s={7.5}>Reported Advanced Work</Tx>
        <path d={starPath(64, 586.5, 6, 2.5)} fill="#ec1c24" />
        <Tx x={71} y={589} s={7.5}>This Work</Tx>
        <Tx x={120} y={694} s={7}>Ultra-high <tspan fontStyle="italic">V</tspan><tspan fontSize={5} dy={1.5}>oc</tspan><tspan dy={-1.5}>×</tspan><tspan fontStyle="italic">J</tspan><tspan fontSize={5} dy={1.5}>sc</tspan><tspan dy={-1.5}> with PCE &gt; 14%</tspan></Tx>

        {/* 5e */}
        <Rot cx={237.5} cy={635} s={8.5}>Current Density (mA/cm<tspan dy={-3} fontSize={6}>2</tspan><tspan dy={3}>)</tspan></Rot>
        <Rot cx={447.5} cy={642} s={8.5}>PCE (%)</Rot>
        <Tx x={341} y={719} s={9.5} a="middle">Times (s)</Tx>
        <line x1={298} y1={597} x2={318} y2={597} stroke={PURP} strokeWidth={0.9} />
        <circle cx={308} cy={597} r={2.4} fill="#fff" stroke={PURP} strokeWidth={0.9} />
        <Tx x={320} y={599.5} s={7}>PCE= 13.96% @0.65 V</Tx>
        <line x1={298} y1={672} x2={318} y2={672} stroke={TEAL} strokeWidth={0.9} />
        <circle cx={308} cy={672} r={2.4} fill="#fff" stroke={TEAL} strokeWidth={0.9} />
        <Tx x={320} y={674.5} s={7}><tspan fontStyle="italic">J</tspan><tspan fontSize={5} dy={1.5}>SC</tspan><tspan dy={-1.5}>= 21.52 mA/cm</tspan><tspan fontSize={5} dy={-3}>2</tspan></Tx>

        {/* 5f */}
        <Rot cx={455} cy={628} s={8.5}>Normalized PCE</Rot>
        <Tx x={560} y={719} s={9.5} a="middle">Times (h)</Tx>
        <Tx x={478} y={656.5} s={7}>Unencapsulated device</Tx>
        <Tx x={478} y={665.5} s={7}>H<tspan fontSize={5} dy={1.5}>2</tspan><tspan dy={-1.5}>O ≤ 0.01 ppm,  O</tspan><tspan fontSize={5} dy={1.5}>2</tspan><tspan dy={-1.5}> ≤ 0.01 ppm</tspan></Tx>
        <line x1={479} y1={678} x2={497} y2={678} stroke={PURP} strokeWidth={0.9} />
        <path d={dPath(488, 678, 3)} fill="#fff" stroke={PURP} strokeWidth={0.9} />
        <Tx x={499} y={680.5} s={7}>Pristine</Tx>
        <line x1={479} y1={686.5} x2={497} y2={686.5} stroke={TEAL} strokeWidth={0.9} />
        <circle cx={488} cy={686.5} r={2.6} fill="#fff" stroke={TEAL} strokeWidth={0.9} />
        <Tx x={499} y={689} s={7}>Target</Tx>

        {/* Figure 5 caption */}
        <CapLine y={741}><tspan fontWeight={700}>Figure 5.</tspan> a) Characteristic <tspan fontStyle="italic">J</tspan>-<tspan fontStyle="italic">V</tspan> curves, b) The EQE spectra and the integrated current density, and c) PCE statistics of the pristine and target devices. d)</CapLine>
        <CapLine y={753.2}>Summarized PCEs and <tspan fontStyle="italic">V</tspan><tspan fontSize={6} dy={2}>oc</tspan><tspan dy={-2}> × </tspan><tspan fontStyle="italic">J</tspan><tspan fontSize={6} dy={2}>sc</tspan><tspan dy={-2}> values for the reported advanced Sn-PSCs. e) Stabilized current density and power output measured for the pristine</tspan></CapLine>
        <CapLine y={765.4} fit={false}>and target device. f) The PCE degradation curves of unpackaged pristine and target devices in nitrogen for 1000 h.</CapLine>
      </svg>
    </div>
  );
}
